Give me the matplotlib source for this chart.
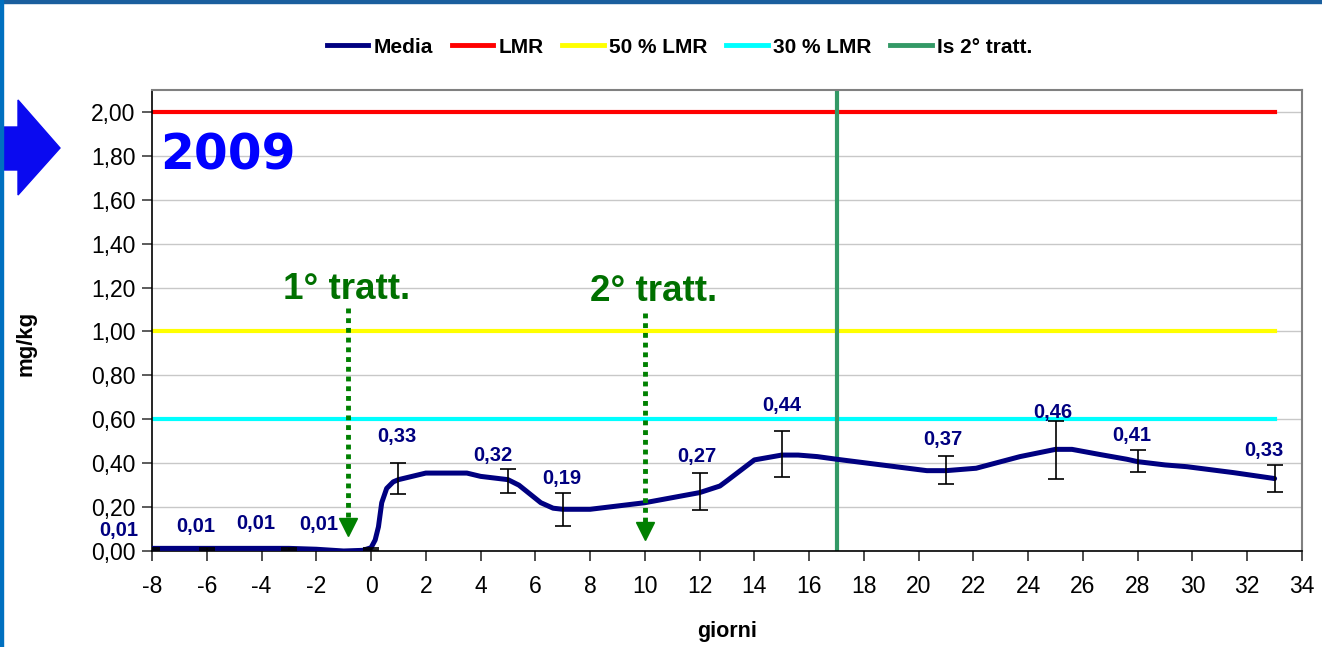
import matplotlib.pyplot as plt
from matplotlib.lines import Line2D
from matplotlib.patches import Polygon, Rectangle

# punti misurati (media e deviazione standard)
giorni = [-8, -6, -3, 0, 1, 5, 7, 12, 15, 21, 25, 28, 33]
media = [0.01, 0.01, 0.01, 0.01, 0.33, 0.32, 0.19, 0.27, 0.44, 0.37, 0.46, 0.41, 0.33]
dev_std = [0.005, 0.005, 0.005, 0.005, 0.07, 0.055, 0.075, 0.085, 0.105, 0.065, 0.13, 0.05, 0.063]
etichette = ['0,01', '0,01', '0,01', '0,01', '0,33', '0,32', '0,19', '0,27',
             '0,44', '0,37', '0,46', '0,41', '0,33']

# curva "Media" lisciata
curva_x = [-8, -6, -3, -2, -1, -0.3, 0, 0.15, 0.27, 0.39, 0.57, 0.81, 1, 2, 3.5,
           4, 5, 5.4, 6.2, 6.65, 7, 8, 10, 12, 12.74, 13, 14, 15, 15.6, 16.3, 17,
           20.3, 21, 22.1, 23.7, 25, 25.6, 26.6, 27.6, 28, 29, 29.8, 31.5, 33]
curva_y = [0.012, 0.012, 0.012, 0.008, 0.0, 0.003, 0.015, 0.05, 0.11, 0.22, 0.285,
           0.315, 0.325, 0.355, 0.355, 0.34, 0.325, 0.30, 0.22, 0.195, 0.19, 0.19,
           0.22, 0.266, 0.296, 0.32, 0.415, 0.437, 0.437, 0.43, 0.418, 0.366, 0.366,
           0.377, 0.43, 0.463, 0.463, 0.44, 0.418, 0.407, 0.392, 0.384, 0.357, 0.33]

# limiti orizzontali
lim_x = [-8, 33]
lmr = [2.0, 2.0]
lmr_50 = [1.0, 1.0]
lmr_30 = [0.6, 0.6]
giorno_2_tratt = 17

# posizione delle etichette dei valori (layout)
pos_etichette = [(-9.2, 0.095), (-6.4, 0.11), (-4.2, 0.123), (-1.9, 0.12), (0.95, 0.52),
                 (4.46, 0.437), (6.97, 0.328), (11.9, 0.43), (15.0, 0.665), (20.9, 0.51),
                 (24.9, 0.63), (27.8, 0.528), (32.6, 0.46)]

NAVY = '#000080'
VERDE = '#339966'
VERDE_SCURO = '#007000'

plt.rcParams['font.family'] = ['Liberation Sans', 'DejaVu Sans']
plt.rcParams['axes.unicode_minus'] = False

fig = plt.figure(figsize=(13.22, 6.47), dpi=100)
ax = fig.add_axes([152 / 1322, 1 - 551 / 647, 1150 / 1322, 461 / 647])

# griglia e assi
ax.set_xlim(-8, 34)
ax.set_ylim(0, 2.1)
ax.set_xticks(range(-8, 35, 2))
ax.set_yticks([i * 0.2 for i in range(11)])
ax.set_yticklabels([f'{i * 0.2:.2f}'.replace('.', ',') for i in range(11)])
ax.yaxis.grid(True, color='#c8c8c8', lw=1)
ax.set_axisbelow(True)
for lato in ['top', 'right']:
    ax.spines[lato].set_color('#808080')
    ax.spines[lato].set_linewidth(1.5)
for lato in ['left', 'bottom']:
    ax.spines[lato].set_color('black')
    ax.spines[lato].set_linewidth(1.2)
ax.tick_params(axis='x', length=7, width=1.2, color='#303030', labelsize=16.5, pad=10)
ax.tick_params(axis='y', length=7, width=1.2, color='#404040', labelsize=16.5, pad=5)

# linee di riferimento
ax.plot(lim_x, lmr, color='#ff0000', lw=3, zorder=2)
ax.plot(lim_x, lmr_50, color='#ffff00', lw=3, zorder=2)
ax.plot(lim_x, lmr_30, color='#00ffff', lw=3, zorder=2)
ax.axvline(giorno_2_tratt, color=VERDE, lw=3, zorder=2)

# curva media con barre d'errore
ax.plot(curva_x, curva_y, color=NAVY, lw=3.6, solid_joinstyle='round',
        solid_capstyle='round', zorder=4)
ax.errorbar(giorni, media, yerr=dev_std, fmt='none', ecolor='black', elinewidth=1.2,
            capsize=6, capthick=1.2, zorder=5)
for testo, (px, py) in zip(etichette, pos_etichette):
    ax.text(px, py, testo, color=NAVY, fontsize=14.5, fontweight='bold',
            ha='center', va='center', clip_on=False, zorder=6)

# frecce dei trattamenti
for gx, y0, y1, testo, tx, ty in [(-0.85, 1.107, 0.13, '1° tratt.', -0.9, 1.19),
                                  (10.0, 1.084, 0.11, '2° tratt.', 10.3, 1.18)]:
    ax.plot([gx, gx], [y0, y1], color='#008000', lw=3.5, linestyle=(0, (1, 1)),
            dash_capstyle='butt', zorder=6)
    ax.plot([gx], [y1 - 0.02], marker='v', color='#008000', markersize=13, zorder=6)
    ax.text(tx, ty, testo, color=VERDE_SCURO, fontsize=26.5, fontweight='bold',
            ha='center', va='center', zorder=6)

ax.text(-7.7, 1.80, '2009', color='#0000ff', fontsize=35, fontweight='bold',
        family='DejaVu Sans', ha='left', va='center', zorder=6)

ax.set_xlabel('giorni', fontsize=15.5, fontweight='bold', labelpad=17)
ax.set_ylabel('mg/kg', fontsize=16, fontweight='bold')
ax.yaxis.set_label_coords(-0.1, 0.45)

# legenda
maniglie = [Line2D([], [], color=NAVY, lw=3.5),
            Line2D([], [], color='#ff0000', lw=3.5),
            Line2D([], [], color='#ffff00', lw=3.5),
            Line2D([], [], color='#00ffff', lw=3.5),
            Line2D([], [], color=VERDE, lw=3.5)]
nomi = ['Media', 'LMR', '50 % LMR', '30 % LMR', 'Is 2° tratt.']
fig.legend(maniglie, nomi, loc='center', bbox_to_anchor=(0.514, 0.927), ncol=5,
           frameon=False, prop={'weight': 'bold', 'size': 15}, handlelength=2.0,
           handletextpad=0.25, columnspacing=0.9)

# freccia blu a sinistra e cornice
fig.patches.append(Polygon([(0, 1 - 127 / 647), (18 / 1322, 1 - 127 / 647),
                            (18 / 1322, 1 - 100 / 647), (60 / 1322, 1 - 148 / 647),
                            (18 / 1322, 1 - 195 / 647), (18 / 1322, 1 - 170 / 647),
                            (0, 1 - 170 / 647)], closed=True, color='#0a0af0',
                           transform=fig.transFigure))
fig.patches.append(Rectangle((0, 1 - 3 / 647), 1, 3 / 647, color='#1a5f9e',
                             transform=fig.transFigure))
fig.patches.append(Rectangle((0, 0), 3 / 1322, 1, color='#0070c0',
                             transform=fig.transFigure))

fig.savefig('out.png', dpi=100, facecolor='white')
